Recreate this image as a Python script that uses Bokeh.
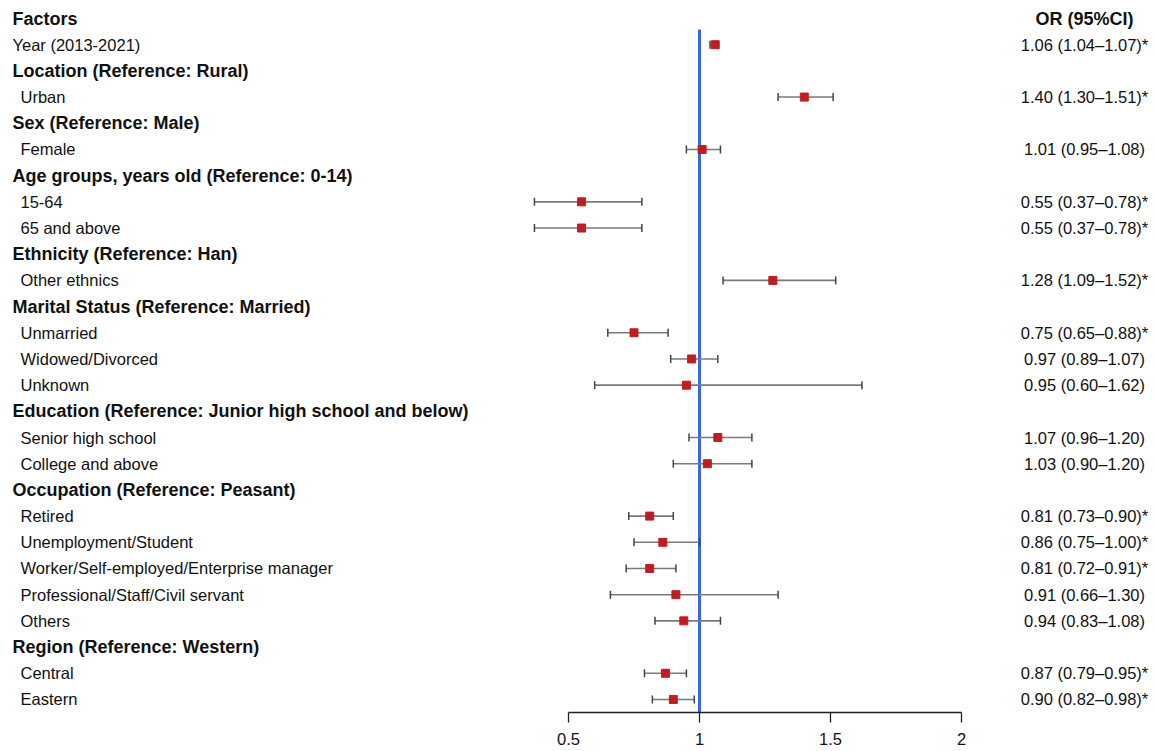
import numpy as np
from bokeh.plotting import figure
from bokeh.models import Range1d, FixedTicker, ColumnDataSource
from bokeh.core.properties import value
from bokeh.embed import file_html
from bokeh.resources import INLINE

# ---------------- data ----------------
row_labels = [
    "Factors",
    "Year (2013-2021)",
    "Location (Reference: Rural)", "Urban",
    "Sex (Reference: Male)", "Female",
    "Age groups, years old (Reference: 0-14)", "15-64", "65 and above",
    "Ethnicity (Reference: Han)", "Other ethnics",
    "Marital Status (Reference: Married)", "Unmarried", "Widowed/Divorced", "Unknown",
    "Education (Reference: Junior high school and below)", "Senior high school", "College and above",
    "Occupation (Reference: Peasant)", "Retired", "Unemployment/Student",
    "Worker/Self-employed/Enterprise manager", "Professional/Staff/Civil servant", "Others",
    "Region (Reference: Western)", "Central", "Eastern",
]
# row kind: h = bold header, t = top-level item, i = indented item
row_kind = ["h", "t", "h", "i", "h", "i", "h", "i", "i", "h", "i", "h", "i", "i", "i",
            "h", "i", "i", "h", "i", "i", "i", "i", "i", "h", "i", "i"]

est_rows = [1, 3, 5, 7, 8, 10, 12, 13, 14, 16, 17, 19, 20, 21, 22, 23, 25, 26]
or_est = [1.06, 1.40, 1.01, 0.55, 0.55, 1.28, 0.75, 0.97, 0.95, 1.07, 1.03,
          0.81, 0.86, 0.81, 0.91, 0.94, 0.87, 0.90]
ci_low = [1.04, 1.30, 0.95, 0.37, 0.37, 1.09, 0.65, 0.89, 0.60, 0.96, 0.90,
          0.73, 0.75, 0.72, 0.66, 0.83, 0.79, 0.82]
ci_high = [1.07, 1.51, 1.08, 0.78, 0.78, 1.52, 0.88, 1.07, 1.62, 1.20, 1.20,
           0.90, 1.00, 0.91, 1.30, 1.08, 0.95, 0.98]
significant = [True, True, False, True, True, True, True, False, False, False, False,
               True, True, True, False, False, True, True]

ref_or = 1.0
tick_values = [0.5, 1.0, 1.5, 2.0]
tick_labels = ["0.5", "1", "1.5", "2"]
or_header = "OR (95%CI)"

# ---------------- layout ----------------
W, H = 1156, 751
PPU = 262.0              # pixels per OR unit
ONE_PX = 699.0           # canvas x of OR = 1
ROW_H = 26.19
ROW0_PX = 18.0           # canvas y of row 0
FRAME_H = 712
BOTTOM = H - FRAME_H

x0 = ref_or - ONE_PX / PPU
x1 = x0 + W / PPU
y_top = -ROW0_PX / ROW_H
y_bot = (FRAME_H - ROW0_PX) / ROW_H

FONT = "Liberation Sans"

p = figure(width=W, height=H, output_backend="svg", toolbar_location=None,
           x_range=Range1d(x0, x1), y_range=Range1d(y_bot, y_top),
           y_axis_location=None, min_border_left=0, min_border_right=0,
           min_border_top=0, min_border_bottom=BOTTOM)
p.outline_line_color = None
p.grid.visible = False
p.background_fill_color = "white"
p.border_fill_color = "white"

ax = p.xaxis[0]
ax.ticker = FixedTicker(ticks=tick_values)
ax.bounds = (min(tick_values), max(tick_values))
ax.major_label_overrides = {v: s for v, s in zip(tick_values, tick_labels)}
ax.axis_line_color = "#222222"
ax.axis_line_width = 1.3
ax.major_tick_line_color = "#222222"
ax.major_tick_line_width = 1.3
ax.major_tick_out = 10
ax.major_tick_in = 0
ax.minor_tick_line_color = None
ax.major_label_standoff = 10
ax.major_label_text_font = FONT
ax.major_label_text_font_size = "16.5px"
ax.major_label_text_color = "#111111"

# reference line
p.segment(x0=[ref_or], y0=[0.42], x1=[ref_or], y1=[y_bot], line_color="#3A66EE", line_width=3)

# left labels
left_x = x0 + 12 / PPU
indent_x = x0 + 20 / PPU
rows = list(range(len(row_labels)))
hdr = [i for i in rows if row_kind[i] == "h"]
top = [i for i in rows if row_kind[i] == "t"]
ind = [i for i in rows if row_kind[i] == "i"]
p.text(x=[left_x] * len(hdr), y=hdr, text=[row_labels[i] for i in hdr],
       text_font=value(FONT), text_font_size="18px", text_font_style="bold",
       text_baseline="middle", text_align="left", text_color="#111111")
p.text(x=[left_x] * len(top), y=top, text=[row_labels[i] for i in top],
       text_font=value(FONT), text_font_size="16.5px",
       text_baseline="middle", text_align="left", text_color="#111111")
p.text(x=[indent_x] * len(ind), y=ind, text=[row_labels[i] for i in ind],
       text_font=value(FONT), text_font_size="16.5px",
       text_baseline="middle", text_align="left", text_color="#111111")

# right column
right_x = x0 + 1084 / PPU
or_text = [f"{e:.2f} ({l:.2f}\u2013{h:.2f})" + ("*" if s else "")
           for e, l, h, s in zip(or_est, ci_low, ci_high, significant)]
p.text(x=[right_x], y=[0], text=[or_header], text_font=value(FONT), text_font_size="18px",
       text_font_style="bold", text_baseline="middle", text_align="center", text_color="#111111")
p.text(x=[right_x] * len(or_text), y=est_rows, text=or_text, text_font=value(FONT),
       text_font_size="16.5px", text_baseline="middle", text_align="center", text_color="#111111")

# CIs and points
src = ColumnDataSource(dict(y=est_rows, est=or_est, lo=ci_low, hi=ci_high))
p.segment(x0="lo", y0="y", x1="hi", y1="y", source=src, line_color="#7a7a7a", line_width=1.6)
p.scatter(x="lo", y="y", source=src, marker="dash", angle=np.pi / 2, size=8,
          line_color="#444444", line_width=1.5)
p.scatter(x="hi", y="y", source=src, marker="dash", angle=np.pi / 2, size=8,
          line_color="#444444", line_width=1.5)
p.scatter(x="est", y="y", source=src, marker="square", size=8,
          fill_color="#BE1E22", line_color="#BE1E22")

open("out.html", "w").write(file_html(p, INLINE))
